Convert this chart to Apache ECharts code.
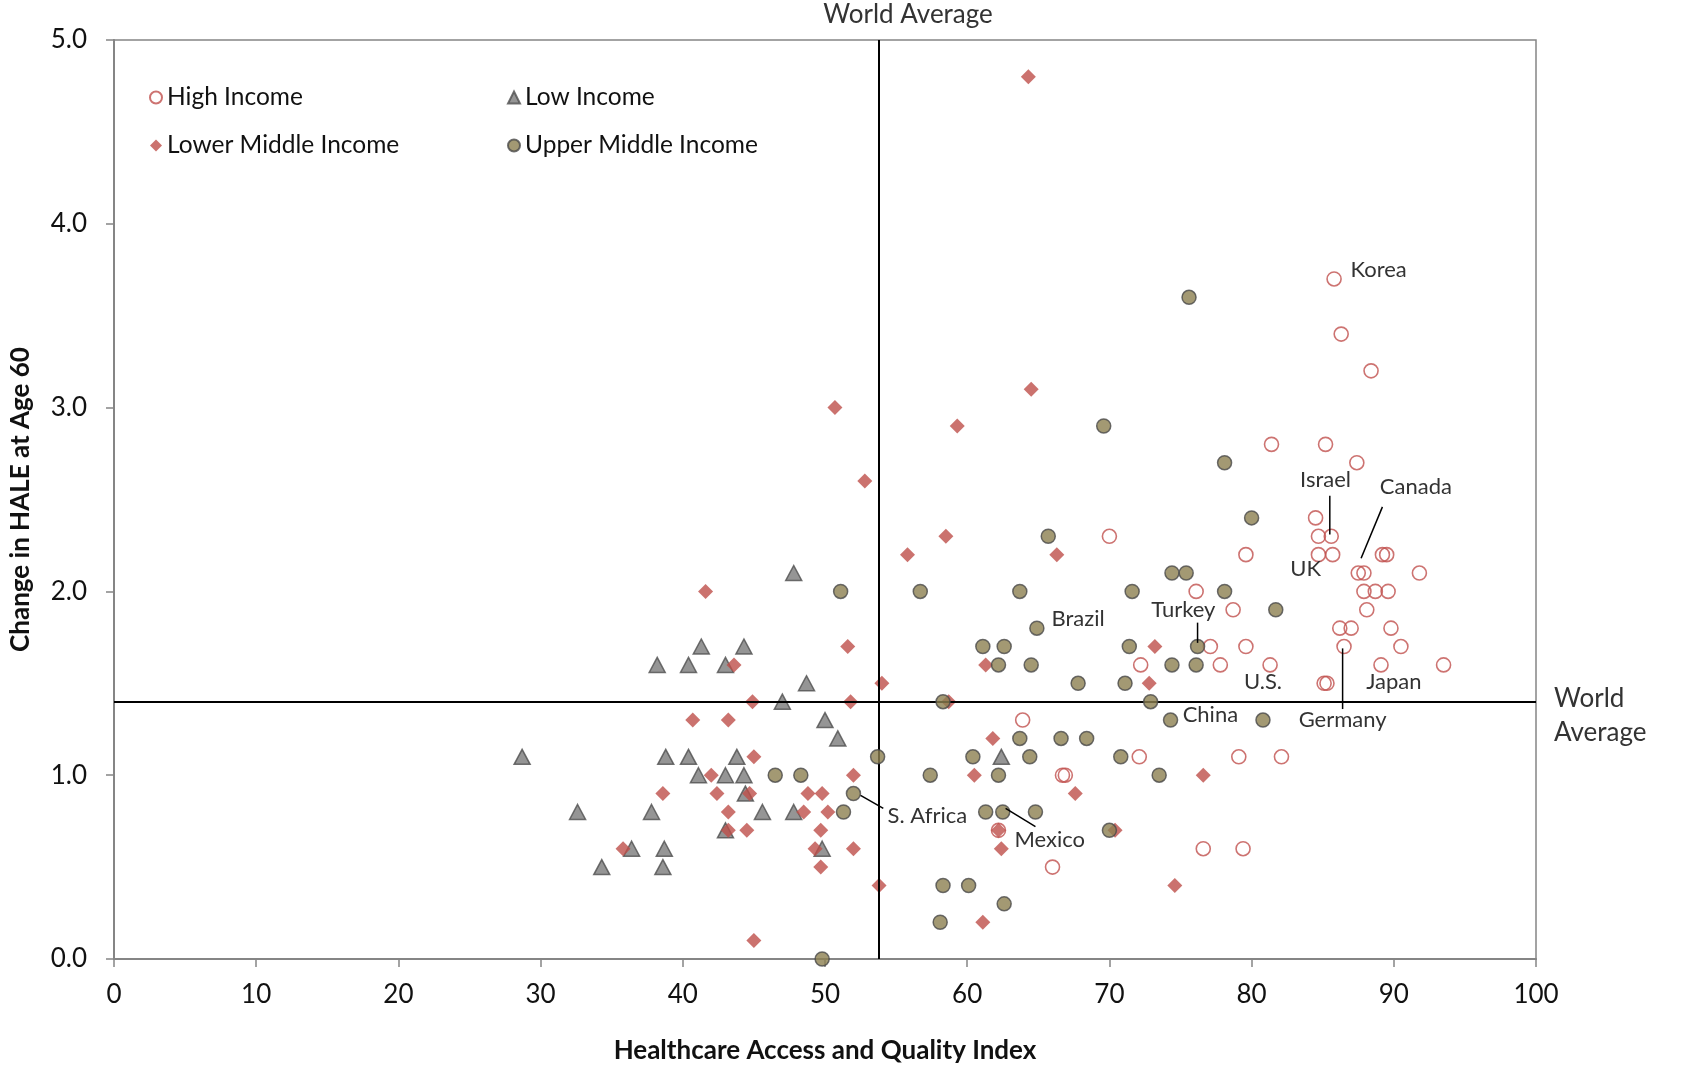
<!DOCTYPE html>
<html>
<head>
<meta charset="utf-8">
<script src="https://cdn.jsdelivr.net/npm/echarts@6/dist/echarts.min.js"></script>
<style>
html,body{margin:0;padding:0;background:#fff;}
#c{width:1684px;height:1069px;}
</style>
</head>
<body>
<div id="c"></div>
<script>
// ---- data (HAQ index, change in HALE at age 60) ----
var seriesNames = ['High Income', 'Low Income', 'Lower Middle Income', 'Upper Middle Income'];
var xTicks = [0, 10, 20, 30, 40, 50, 60, 70, 80, 90, 100];
var yTicks = [0, 1, 2, 3, 4, 5];
var worldAverageHAQ = 53.8;
var worldAverageHALE = 1.4;

var highIncome = [
  [85.8,3.7],[86.3,3.4],[88.4,3.2],[81.4,2.8],[85.2,2.8],[87.4,2.7],[70.0,2.3],[84.5,2.4],
  [84.7,2.3],[85.6,2.3],[79.6,2.2],[84.7,2.2],[85.7,2.2],[89.2,2.2],[89.5,2.2],[87.5,2.1],
  [87.9,2.1],[91.8,2.1],[76.1,2.0],[87.9,2.0],[88.7,2.0],[89.6,2.0],[78.7,1.9],[88.1,1.9],
  [86.2,1.8],[87.0,1.8],[89.8,1.8],[77.1,1.7],[79.6,1.7],[86.5,1.7],[90.5,1.7],[72.2,1.6],
  [77.8,1.6],[81.3,1.6],[89.1,1.6],[93.5,1.6],[85.1,1.5],[85.3,1.5],[63.9,1.3],[72.1,1.1],
  [79.1,1.1],[82.1,1.1],[66.7,1.0],[66.9,1.0],[62.2,0.7],[76.6,0.6],[79.4,0.6],[66.0,0.5]
];
var lowIncome = [
  [47.8,2.1],[41.3,1.7],[44.3,1.7],[38.2,1.6],[40.4,1.6],[43.0,1.6],[48.7,1.5],[47.0,1.4],
  [50.0,1.3],[50.9,1.2],[28.7,1.1],[38.8,1.1],[40.4,1.1],[43.8,1.1],[62.4,1.1],[41.1,1.0],
  [43.0,1.0],[44.3,1.0],[44.4,0.9],[32.6,0.8],[37.8,0.8],[45.6,0.8],[47.8,0.8],[43.0,0.7],
  [36.4,0.6],[38.7,0.6],[49.8,0.6],[34.3,0.5],[38.6,0.5]
];
var lowerMiddleIncome = [
  [64.3,4.8],[64.5,3.1],[50.7,3.0],[59.3,2.9],[52.8,2.6],[58.5,2.3],[55.8,2.2],[66.3,2.2],
  [41.6,2.0],[51.6,1.7],[73.2,1.7],[43.6,1.6],[61.3,1.6],[54.0,1.5],[72.8,1.5],[44.9,1.4],
  [51.8,1.4],[58.7,1.4],[40.7,1.3],[43.2,1.3],[61.8,1.2],[45.0,1.1],[42.0,1.0],[52.0,1.0],
  [60.5,1.0],[76.6,1.0],[38.6,0.9],[42.4,0.9],[44.7,0.9],[48.8,0.9],[49.8,0.9],[67.6,0.9],
  [43.2,0.8],[48.5,0.8],[50.2,0.8],[43.2,0.7],[44.5,0.7],[49.7,0.7],[62.2,0.7],[70.4,0.7],
  [35.8,0.6],[49.3,0.6],[52.0,0.6],[62.4,0.6],[49.7,0.5],[53.8,0.4],[74.6,0.4],[61.1,0.2],
  [45.0,0.1]
];
var upperMiddleIncome = [
  [75.6,3.6],[69.6,2.9],[78.1,2.7],[80.0,2.4],[65.7,2.3],[74.4,2.1],[75.4,2.1],[51.1,2.0],
  [56.7,2.0],[63.7,2.0],[71.6,2.0],[78.1,2.0],[81.7,1.9],[64.9,1.8],[61.1,1.7],[62.6,1.7],
  [71.4,1.7],[76.2,1.7],[62.2,1.6],[64.5,1.6],[74.4,1.6],[76.1,1.6],[67.8,1.5],[71.1,1.5],
  [58.3,1.4],[72.9,1.4],[74.3,1.3],[80.8,1.3],[63.7,1.2],[66.6,1.2],[68.4,1.2],[53.7,1.1],
  [60.4,1.1],[64.4,1.1],[70.8,1.1],[46.5,1.0],[48.3,1.0],[57.4,1.0],[62.2,1.0],[73.5,1.0],
  [52.0,0.9],[51.3,0.8],[61.3,0.8],[62.5,0.8],[64.8,0.8],[70.0,0.7],[58.3,0.4],[60.1,0.4],
  [62.6,0.3],[58.1,0.2],[49.8,0.0]
];

// country labels: text, text anchor (data units), alignment, optional leader line (data units)
var countryLabels = [
  {text:'Korea',    at:[86.95,3.75], align:'left'},
  {text:'Israel',   at:[85.2,2.605], align:'center', line:[[85.5,2.52],[85.5,2.31]]},
  {text:'Canada',   at:[91.55,2.57], align:'center', line:[[89.2,2.46],[87.7,2.18]]},
  {text:'UK',       at:[83.8,2.12],  align:'center'},
  {text:'Turkey',   at:[75.2,1.90],  align:'center', line:[[76.2,1.83],[76.2,1.72]]},
  {text:'Brazil',   at:[67.8,1.85],  align:'center'},
  {text:'U.S.',     at:[80.8,1.51],  align:'center'},
  {text:'Japan',    at:[90.0,1.51],  align:'center'},
  {text:'Germany',  at:[86.4,1.30],  align:'center', line:[[86.4,1.69],[86.4,1.36]]},
  {text:'China',    at:[77.1,1.33],  align:'center'},
  {text:'S. Africa',at:[57.2,0.78],  align:'center', line:[[52.5,0.89],[54.1,0.82]]},
  {text:'Mexico',   at:[65.8,0.65],  align:'center', line:[[62.7,0.82],[64.8,0.72]]}
];

var FONT = 'Lato';
var chart = echarts.init(document.getElementById('c'), null, {renderer:'canvas'});

var legendText = {fontSize:24.5, fontFamily:FONT, color:'#111', padding:[0,0,0,0]};

var option = {
  backgroundColor:'#fff',
  animation:false,
  grid:{left:112, top:40, right:148, bottom:110, show:true, borderColor:'#858585', borderWidth:1.5},
  legend:[
    {data:[seriesNames[0], seriesNames[2]], orient:'vertical', left:144, top:80, itemGap:23,
     itemWidth:12, itemHeight:12, textStyle:legendText, selectedMode:false},
    {data:[seriesNames[1], seriesNames[3]], orient:'vertical', left:502, top:80, itemGap:23,
     itemWidth:12, itemHeight:12, textStyle:legendText, selectedMode:false}
  ],
  xAxis:{
    type:'value', min:xTicks[0], max:xTicks[xTicks.length-1], interval:10,
    name:'Healthcare Access and Quality Index', nameLocation:'middle', nameGap:79,
    nameTextStyle:{fontSize:26, fontWeight:'bold', fontFamily:FONT, color:'#111'},
    axisLine:{show:true, onZero:false, lineStyle:{color:'#858585', width:2}},
    axisTick:{show:true, length:8, inside:false, lineStyle:{color:'#858585', width:1.5}},
    axisLabel:{fontSize:26, fontFamily:FONT, color:'#111', margin:23},
    splitLine:{show:false}
  },
  yAxis:{
    type:'value', min:yTicks[0], max:yTicks[yTicks.length-1], interval:1,
    name:'Change in HALE at Age 60', nameLocation:'middle', nameGap:80, nameRotate:90,
    nameTextStyle:{fontSize:26, fontWeight:'bold', fontFamily:FONT, color:'#111'},
    axisLine:{show:true, onZero:false, lineStyle:{color:'#858585', width:2}},
    axisTick:{show:true, length:8, lineStyle:{color:'#858585', width:1.5}},
    axisLabel:{fontSize:26, fontFamily:FONT, color:'#111', margin:27,
      formatter:function(v){return v.toFixed(1);}},
    splitLine:{show:false}
  },
  series:[
    {name:seriesNames[0], type:'scatter', data:highIncome, symbol:'circle', symbolSize:14, z:2,
     itemStyle:{color:'rgba(255,255,255,0)', borderColor:'#C0504D', borderWidth:1.6},
     markLine:{silent:true, symbol:'none', animation:false, label:{show:false},
       lineStyle:{color:'#000', width:2, type:'solid'},
       data:[{xAxis:worldAverageHAQ},{yAxis:worldAverageHALE}]}},
    {name:seriesNames[1], type:'scatter', data:lowIncome, symbol:'triangle', symbolSize:[16,15], z:3,
     itemStyle:{color:'#7A7A7A', borderColor:'#4F4F4F', borderWidth:1.5}},
    {name:seriesNames[2], type:'scatter', data:lowerMiddleIncome, symbol:'diamond', symbolSize:15, z:4,
     itemStyle:{color:'#BE4F4A'}},
    {name:seriesNames[3], type:'scatter', data:upperMiddleIncome, symbol:'circle', symbolSize:14, z:5,
     itemStyle:{color:'#8C7F50', borderColor:'#4A4A4A', borderWidth:1.5}}
  ]
};
chart.setOption(option);

function px(p){ return chart.convertToPixel({gridIndex:0}, p); }
var g = [];
countryLabels.forEach(function(a){
  var p = px(a.at);
  g.push({type:'text', z:100, style:{text:a.text, x:p[0], y:p[1], align:a.align, verticalAlign:'middle',
    fontSize:22, fontFamily:FONT, fill:'#333'}});
  if(a.line){
    var p1 = px(a.line[0]), p2 = px(a.line[1]);
    g.push({type:'line', z:100, shape:{x1:p1[0], y1:p1[1], x2:p2[0], y2:p2[1]},
      style:{stroke:'#000', lineWidth:1.5}});
  }
});
var vTop = px([worldAverageHAQ, 5]);
var hRight = px([100, worldAverageHALE]);
g.push({type:'text', z:100, style:{text:'World Average', x:vTop[0]+29, y:15, align:'center', verticalAlign:'middle',
  fontSize:26, fontFamily:FONT, fill:'#333'}});
g.push({type:'text', z:100, style:{text:'World\nAverage', x:hRight[0]+18, y:hRight[1]+14, align:'left', verticalAlign:'middle',
  fontSize:26, lineHeight:34, fontFamily:FONT, fill:'#333'}});
chart.setOption({graphic:g});
</script>
</body>
</html>
